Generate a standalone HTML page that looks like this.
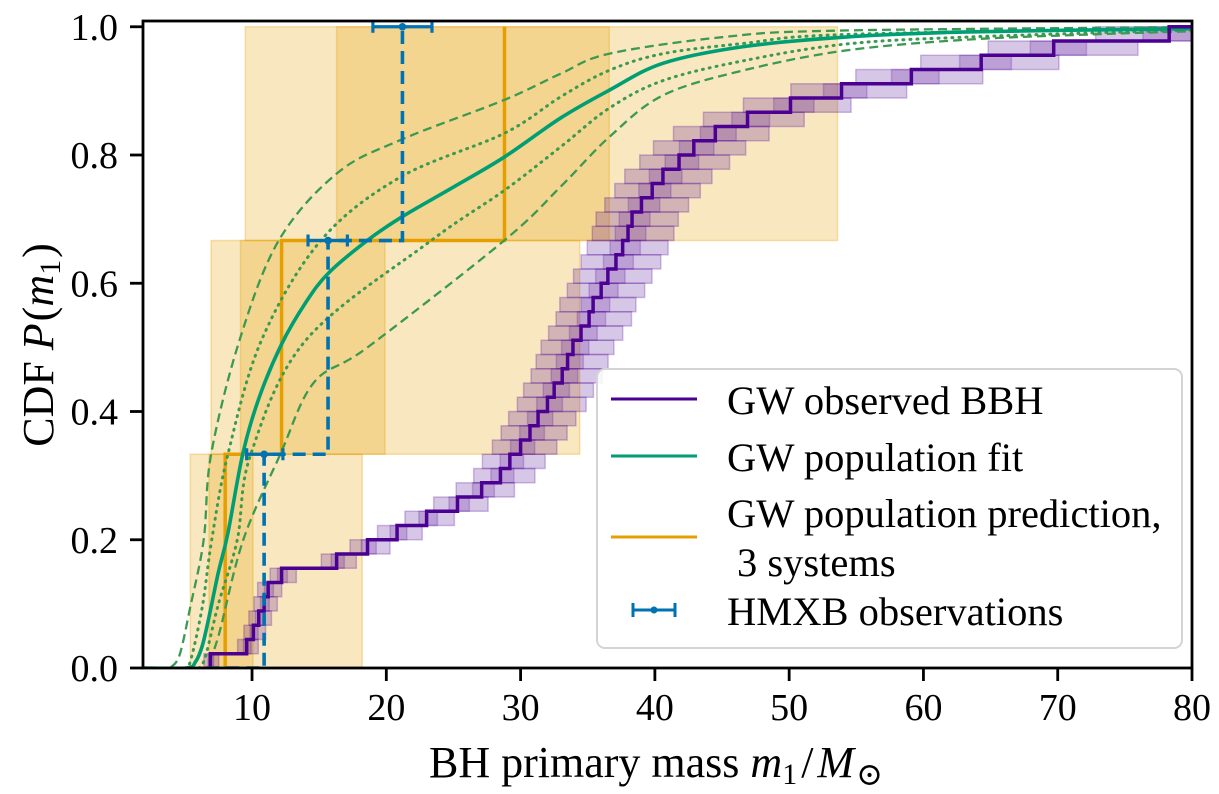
<!DOCTYPE html>
<html><head><meta charset="utf-8">
<style>
html,body{margin:0;padding:0;background:#fff;}
svg{display:block;font-family:"Liberation Serif","DejaVu Serif",serif;}
</style></head>
<body>
<svg id="chart" width="1219" height="794" viewBox="0 0 1219 794" xmlns="http://www.w3.org/2000/svg">
  <defs><clipPath id="plotclip"><rect x="143" y="21" width="1049" height="647"/></clipPath></defs>
  <g id="plot" clip-path="url(#plotclip)"></g>
  <g id="axes"></g>
  <text x="429" y="777" font-size="44">BH primary mass <tspan font-style="italic">m</tspan><tspan font-size="30" dy="7">1</tspan><tspan dy="-7" dx="4">/</tspan><tspan font-style="italic" dx="4">M</tspan><tspan font-size="32" dy="8" dx="2">⊙</tspan></text>
  <text transform="translate(53,345) rotate(-90)" font-size="44" text-anchor="middle">CDF <tspan font-style="italic">P</tspan><tspan dx="2">(</tspan><tspan font-style="italic">m</tspan><tspan font-size="30" dy="7">1</tspan><tspan dy="-7" dx="2">)</tspan></text>
  <g>
    <rect x="597" y="369" width="585" height="279" rx="8" fill="#fff" fill-opacity="0.85" stroke="#d4d4d4" stroke-width="2"/>
    <line x1="611" y1="399" x2="697" y2="399" stroke="#4b0092" stroke-width="3"/>
    <text x="727" y="414" font-size="40.5">GW observed BBH</text>
    <line x1="611" y1="456" x2="697" y2="456" stroke="#009e73" stroke-width="3"/>
    <text x="727" y="471" font-size="40.5">GW population fit</text>
    <line x1="611" y1="537" x2="697" y2="537" stroke="#e69f00" stroke-width="3"/>
    <text x="727" y="527" font-size="40.5">GW population prediction,</text>
    <text x="737" y="576" font-size="40.5">3 systems</text>
    <g stroke="#0072b2" stroke-width="3">
      <line x1="633" y1="610" x2="675" y2="610"/><line x1="633" y1="603" x2="633" y2="617"/><line x1="675" y1="603" x2="675" y2="617"/>
      <circle cx="654" cy="610" r="3.5" fill="#0072b2" stroke="none"/>
    </g>
    <text x="727" y="625" font-size="40.5">HMXB observations</text>
  </g>
</svg>
<script>
// ---- data ----
const xTicks = [10,20,30,40,50,60,70,80];
const yTicks = [0.0,0.2,0.4,0.6,0.8,1.0];
const yTickLabels = ["0.0","0.2","0.4","0.6","0.8","1.0"];
// GW observed BBH event masses (sorted)
const bbhMasses = [6.9,9.6,10.1,10.5,10.9,11.2,12.2,16.3,18.6,20.8,23.0,25.3,27.1,28.5,29.2,30.0,30.7,31.3,32.0,32.5,33.1,33.5,33.9,34.5,35.1,35.4,36.0,36.5,37.1,37.6,38.0,38.3,39.0,39.8,40.6,41.8,42.9,44.5,46.9,50.1,53.9,59.1,64.3,69.7,78.3];
// population fit (median) and credible bands
const fitX = [1.9,5.1,5.8,6.3,6.8,7.5,8.2,9.3,10.5,12.2,14.0,15.7,18.6,21.2,25.0,28.8,33.0,36.6,40.6,46.6,54.2,63.3,80];
const fitY = [0,0,0.01,0.035,0.08,0.15,0.21,0.333,0.42,0.505,0.57,0.616,0.667,0.704,0.75,0.797,0.858,0.901,0.943,0.969,0.984,0.992,0.997];
const upDashX = [3.9,4.6,5.4,6.4,6.95,9.05,11.97,16.3,21.0,28.8,33.0,36.6,45.1,53.6,80];
const upDashY = [0,0.02,0.095,0.2,0.333,0.51,0.666,0.771,0.823,0.886,0.927,0.958,0.984,0.994,0.9995];
const upDotX = [4.9,5.4,6.3,7.0,8.2,10.7,15.1,21.0,28.8,33.0,36.6,40.6,46.6,54.2,80];
const upDotY = [0,0.01,0.096,0.2,0.333,0.511,0.666,0.765,0.834,0.891,0.932,0.958,0.974,0.988,0.998];
const loDotX = [5.6,6.4,7.5,8.9,9.9,14.0,23.3,28.8,33.0,36.6,40.6,46.6,54.2,63.3,80];
const loDotY = [0,0.01,0.1,0.2,0.333,0.511,0.666,0.745,0.813,0.873,0.916,0.947,0.973,0.984,0.995];
const loDashX = [6.6,7.5,9.35,12.1,14.6,18.6,28.8,33.0,36.6,40.6,46.6,54.2,63.3,72.5,80];
const loDashY = [0,0.05,0.2,0.333,0.445,0.5,0.667,0.751,0.828,0.893,0.932,0.963,0.98,0.988,0.993];
// prediction for 3 systems: median, 90% and 50% intervals
const predMed = [8.0,12.2,28.8];
const predLo90 = [5.4,6.95,9.5];
const predHi90 = [18.2,34.4,53.6];
const predLo50 = [6.8,9.14,16.3];
const predHi50 = [10.07,19.9,36.6];
// HMXB observations
const hmxbMass = [10.9,15.66,21.2];
const hmxbLo = [9.6,14.17,19.0];
const hmxbHi = [12.3,17.1,23.4];

// ---- axes ----
const X0=143, X1=1192, Y0=668, Y1=21;
const xmin=1.88, xmax=80, ymin=0, ymax=1.009;
const xs = v => X0 + (v-xmin)/(xmax-xmin)*(X1-X0);
const ys = v => Y0 - (v-ymin)/(ymax-ymin)*(Y0-Y1);
const NS="http://www.w3.org/2000/svg";
const plot=document.getElementById('plot'), axes=document.getElementById('axes');
function mk(tag, attrs, parent){const e=document.createElementNS(NS,tag);for(const k in attrs)e.setAttribute(k,attrs[k]);parent.appendChild(e);return e;}
function smooth(X,Y){
  const p=X.map((x,i)=>[xs(x),ys(Y[i])]);
  let d=`M${p[0][0]},${p[0][1]}`;
  for(let i=0;i<p.length-1;i++){
    const p0=p[Math.max(0,i-1)],p1=p[i],p2=p[i+1],p3=p[Math.min(p.length-1,i+2)];
    const c1=[p1[0]+(p2[0]-p0[0])/6,p1[1]+(p2[1]-p0[1])/6];
    const c2=[p2[0]-(p3[0]-p1[0])/6,p2[1]-(p3[1]-p1[1])/6];
    d+=` C${c1[0]},${c1[1]} ${c2[0]},${c2[1]} ${p2[0]},${p2[1]}`;
  }
  return d;
}
const N3=predMed.length;
// orange boxes
for(let i=0;i<N3;i++){
  const yb=ys(i/N3), yt=ys((i+1)/N3);
  const b=mk('rect',{x:xs(predLo90[i]),y:yt,width:xs(predHi90[i])-xs(predLo90[i]),height:yb-yt,fill:'#e69f00','fill-opacity':0.25,stroke:'#e69f00','stroke-opacity':0.3,'stroke-width':1.5},plot);
  
  
  const c=mk('rect',{x:xs(predLo50[i]),y:yt,width:xs(predHi50[i])-xs(predLo50[i]),height:yb-yt,fill:'#e69f00','fill-opacity':0.25,stroke:'#e69f00','stroke-opacity':0.3,'stroke-width':1.5},plot);
  
  
}
// purple boxes
const NB=bbhMasses.length;
bbhMasses.forEach((m,i)=>{
  const yb=ys(i/NB), yt=ys((i+1)/NB);
  const b=mk('rect',{x:xs(m*0.93),y:yt,width:xs(m*1.09)-xs(m*0.93),height:yb-yt,fill:'#4b0092','fill-opacity':0.22,stroke:'#4b0092','stroke-opacity':0.25,'stroke-width':1.5},plot);
  
  
  const c=mk('rect',{x:xs(m*0.975),y:yt,width:xs(m*1.035)-xs(m*0.975),height:yb-yt,fill:'#4b0092','fill-opacity':0.2,stroke:'#4b0092','stroke-opacity':0.2,'stroke-width':1.5},plot);
  
  
});
// orange step
let od=`M${xs(predMed[0])},${ys(0)}`;
predMed.forEach((m,i)=>{od+=` L${xs(m)},${ys(i/N3)} L${xs(m)},${ys((i+1)/N3)}`; if(i<N3-1) od+=` L${xs(predMed[i+1])},${ys((i+1)/N3)}`;});
const ol=mk('path',{d:od,fill:'none',stroke:'#e69f00','stroke-width':3.5},plot);


// green bands
const bands=[[upDashX,upDashY,'9,5','band-upper-dashed'],[loDashX,loDashY,'9,5','band-lower-dashed'],[upDotX,upDotY,'1,6','band-upper-dotted'],[loDotX,loDotY,'1,6','band-lower-dotted']];
bands.forEach(b=>{
  const dotted=b[2]==='1,6';
  const p=mk('path',{d:`M${X0},${ys(0)} L${xs(b[0][0])},${ys(0)} `+smooth(b[0],b[1]).replace('M','L'),fill:'none',stroke:'#3c9a50','stroke-width':dotted?3:2.3,'stroke-dasharray':b[2],'stroke-linecap':dotted?'round':'butt'},plot);
  
  
});
const fl=mk('path',{d:smooth(fitX,fitY),fill:'none',stroke:'#009e73','stroke-width':3.6},plot);


// purple step
let pd=`M${xs(bbhMasses[0])},${ys(0)}`;
bbhMasses.forEach((m,i)=>{pd+=` L${xs(m)},${ys(i/NB)} L${xs(m)},${ys((i+1)/NB)}`;});
pd+=` L${X1+5},${ys(1)}`;
const pl=mk('path',{d:pd,fill:'none',stroke:'#4b0092','stroke-width':3.5},plot);


// blue dashed step + errorbars
const NH=hmxbMass.length;
let bd=`M${xs(6.6)},${ys(0)}`;
hmxbMass.forEach((m,i)=>{bd+=` L${xs(m)},${ys(i/NH)} L${xs(m)},${ys((i+1)/NH)}`;});
const bl=mk('path',{d:bd,fill:'none',stroke:'#0072b2','stroke-width':3.6,'stroke-dasharray':'13,7'},plot);


hmxbMass.forEach((m,i)=>{
  const y=ys((i+1)/NH);
  const g=mk('g',{stroke:'#0072b2','stroke-width':3.2},axes);
  
  
  mk('line',{x1:xs(hmxbLo[i]),x2:xs(hmxbHi[i]),y1:y,y2:y},g);
  mk('line',{x1:xs(hmxbLo[i]),x2:xs(hmxbLo[i]),y1:y-6,y2:y+6},g);
  mk('line',{x1:xs(hmxbHi[i]),x2:xs(hmxbHi[i]),y1:y-6,y2:y+6},g);
  mk('circle',{cx:xs(m),cy:y,r:3.8,fill:'#0072b2',stroke:'none'},g);
});
// frame
const fr=mk('rect',{x:X0,y:Y1,width:X1-X0,height:Y0-Y1,fill:'none',stroke:'#000','stroke-width':2.8},axes);


xTicks.forEach(t=>{
  const x=xs(t);
  const tk=mk('line',{x1:x,x2:x,y1:Y0,y2:Y0+13,stroke:'#000','stroke-width':2.8},axes);
  
  
  const tl=mk('text',{x:x,y:720,'font-size':38,'text-anchor':'middle'},axes);
  tl.textContent=String(t);
  
  
});
yTicks.forEach((t,i)=>{
  const y=ys(t);
  const tk=mk('line',{x1:X0-13,x2:X0,y1:y,y2:y,stroke:'#000','stroke-width':2.8},axes);
  
  
  const tl=mk('text',{x:118,y:y+13,'font-size':38,'text-anchor':'end'},axes);
  tl.textContent=yTickLabels[i];
  
  
});
</script>
</body></html>
